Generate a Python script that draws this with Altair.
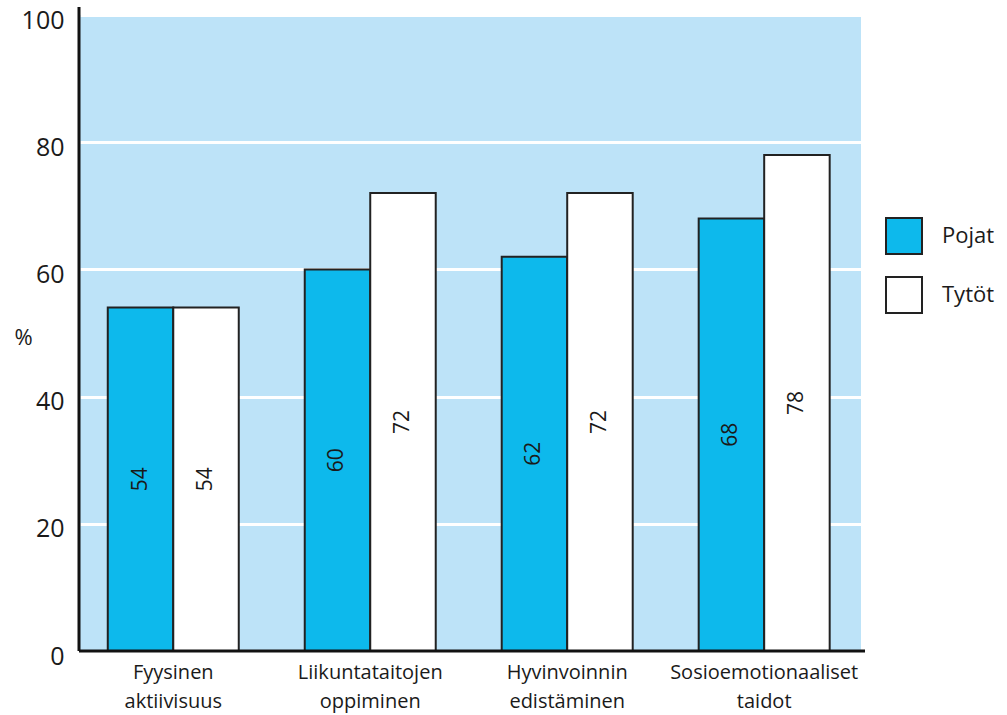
import altair as alt
import pandas as pd

categories = ["Fyysinen aktiivisuus", "Liikuntataitojen oppiminen",
              "Hyvinvoinnin edistäminen", "Sosioemotionaaliset taidot"]
groups = ["Pojat", "Tytöt"]
pojat = [54, 60, 62, 68]
tytot = [54, 72, 72, 78]
y_ticks = [0, 20, 40, 60, 80, 100]

rows = []
for c, p, t in zip(categories, pojat, tytot):
    rows.append({"kategoria": c, "ryhmä": "Pojat", "arvo": p})
    rows.append({"kategoria": c, "ryhmä": "Tytöt", "arvo": t})
df = pd.DataFrame(rows)

W, H = 781, 636
FONT = "Open Sans"
INK = "#1a1a1a"

x_enc = alt.X("kategoria:N", sort=categories, title=None,
              scale=alt.Scale(paddingInner=0.335, paddingOuter=0.15, align=0.47),
              axis=alt.Axis(labelExpr="split(datum.label, ' ')", labelAngle=0,
                            labelFontSize=20, labelFont=FONT, labelColor=INK,
                            labelLineHeight=29, labelPadding=11, labelBaseline="top",
                            labelLimit=0,
                            ticks=False, domain=False, grid=False))
y_enc = alt.Y("arvo:Q", title="%",
              scale=alt.Scale(domain=[0, 100], nice=False),
              axis=alt.Axis(values=y_ticks, labelFontSize=25, labelFont=FONT,
                            labelColor=INK, labelPadding=16, labelOffset=5,
                            labelBaseline="middle",
                            ticks=False, domain=False,
                            grid=True, gridColor="white", gridWidth=3,
                            titleAngle=0, titleFontSize=22, titleFont=FONT,
                            titleFontWeight="normal", titleColor=INK,
                            titleX=-57, titleY=322, titleAlign="center",
                            titleBaseline="middle"))

base = alt.Chart(df)

bars = base.mark_bar(stroke="#222222", strokeWidth=2).encode(
    x=x_enc,
    xOffset=alt.XOffset("ryhmä:N", sort=groups, scale=alt.Scale(paddingInner=0, paddingOuter=0)),
    y=y_enc,
    fill=alt.Fill("ryhmä:N", sort=groups,
                  scale=alt.Scale(domain=groups, range=["#0DB9EC", "#FFFFFF"]),
                  legend=alt.Legend(title=None, orient="none", legendX=805, legendY=202,
                                    symbolType="square", symbolSize=1296,
                                    symbolStrokeColor="#222222", symbolStrokeWidth=2,
                                    symbolOpacity=1,
                                    labelFontSize=22, labelFont=FONT, labelColor=INK,
                                    labelOffset=19, rowPadding=15)),
)

labels = base.transform_calculate(mid="datum.arvo / 2").mark_text(
    angle=270, fontSize=21, font=FONT, color=INK, align="center", baseline="middle"
).encode(
    x=alt.X("kategoria:N", sort=categories),
    xOffset=alt.XOffset("ryhmä:N", sort=groups),
    y=alt.Y("mid:Q"),
    text=alt.Text("arvo:Q"),
)

one = alt.Chart(pd.DataFrame({"a": [0]}))
y_line = one.mark_rule(color="#111111", strokeWidth=3).encode(
    x=alt.value(-1), y=alt.value(-8), y2=alt.value(H))
x_line = one.mark_rule(color="#111111", strokeWidth=3).encode(
    x=alt.value(-1), x2=alt.value(W + 4), y=alt.value(H))

chart = alt.layer(bars, labels, y_line, x_line).properties(
    width=W, height=H,
    autosize=alt.AutoSizeParams(type="none"),
    padding={"left": 80, "top": 15, "right": 146, "bottom": 64},
    background="white",
).configure_view(fill="#BDE3F8", stroke=None)

chart.save("out.html", embed_options={"renderer": "svg", "actions": False})
